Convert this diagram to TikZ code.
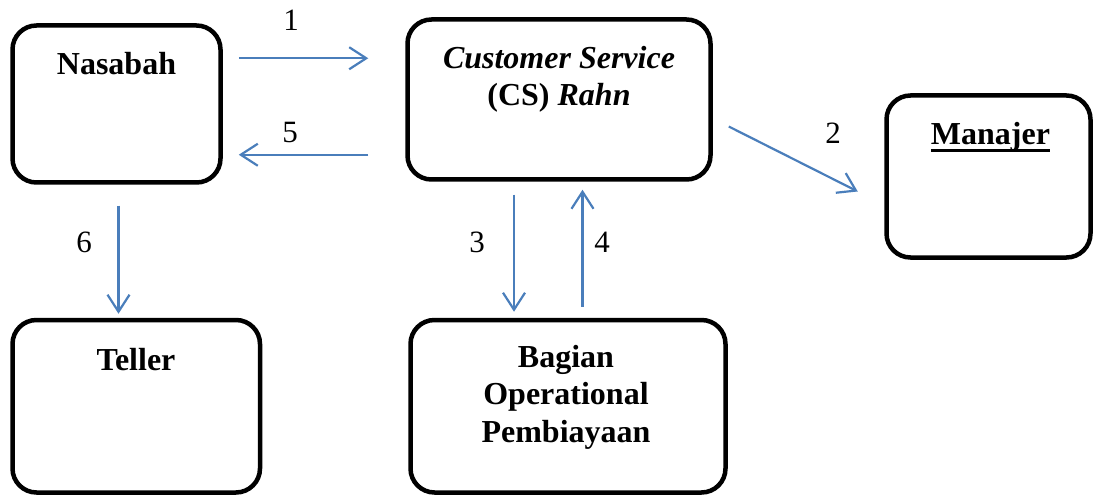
\documentclass[tikz,border=0pt]{standalone}
\usepackage{fontspec}
\setmainfont{Liberation Serif}
\usetikzlibrary{arrows.meta,calc}
\definecolor{flowblue}{RGB}{74,126,187}
\begin{document}
\begin{tikzpicture}[x=1pt,y=-1pt,
  box/.style={draw, rectangle, line width=4.5pt, rounded corners=24pt, inner sep=0pt},
  title/.style={inner sep=0pt, font=\fontsize{32}{37.5}\selectfont\bfseries, align=center},
  flow/.style={draw=flowblue, line width=2.2pt,
    -{Straight Barb[length=17pt,width=22pt,line width=2.2pt]}},
  num/.style={inner sep=0pt, font=\fontsize{31}{31}\selectfont}]

\useasboundingbox (0,0) rectangle (1095,497);

% boxes
\node[box, minimum width=208pt, minimum height=157pt] (nas) at (116.5,104) {};
\node[box, minimum width=303pt, minimum height=160pt] (cs)  at (559,99.5) {};
\node[box, minimum width=204pt, minimum height=162pt] (man) at (988.5,176.5) {};
\node[box, minimum width=247.5pt, minimum height=172.5pt] (tel) at (136.25,406.25) {};
\node[box, minimum width=315pt, minimum height=172.5pt] (bag) at (568,406.25) {};

% titles (base anchor = baseline of the last line)
\node[title, anchor=base] (nastitle) at (116.5,75) {Nasabah};
\node[title, anchor=base] (cstitle) at (559,106) {\textit{Customer Service}\\(CS) \textit{Rahn}};
\node[title, anchor=base] (mantitle) at (990.5,145) {Manajer};
\draw[line width=2.4pt] ($(mantitle.base west)+(0,5.7)$) -- ($(mantitle.base east)+(0,5.7)$);
\node[title, anchor=base] (teltitle) at (136,370) {Teller};
\node[title, anchor=base] (bagtitle) at (566,442) {Bagian\\Operational\\Pembiayaan};

% flows
\draw[flow] ($(nas.north east)+(16,35)$) -- ($(cs.north west)+(-37,41)$);
\draw[flow] ($(cs.south west)+(-37,-27)$) -- ($(nas.south east)+(16,-30)$);
\draw[flow] ($(cs.east)+(16,27)$) -- ($(man.west)+(-26.5,15)$);
\draw[flow] ($(nas.south)+(2,21)$) -- ($(tel.north)+(-17.75,-4)$);
\draw[flow] ($(cs.south)+(-45,13)$) -- ($(bag.north)+(-54,-6)$);
\draw[flow] ($(bag.north)+(14.5,-11)$) -- ($(cs.south)+(23.5,8)$);

% step numbers
\node[num] (n1) at (291,20) {1};
\node[num] (n2) at (833,133) {2};
\node[num] (n3) at (477,242) {3};
\node[num] (n4) at (602,242) {4};
\node[num] (n5) at (290,133) {5};
\node[num] (n6) at (84,242) {6};
\end{tikzpicture}
\end{document}
